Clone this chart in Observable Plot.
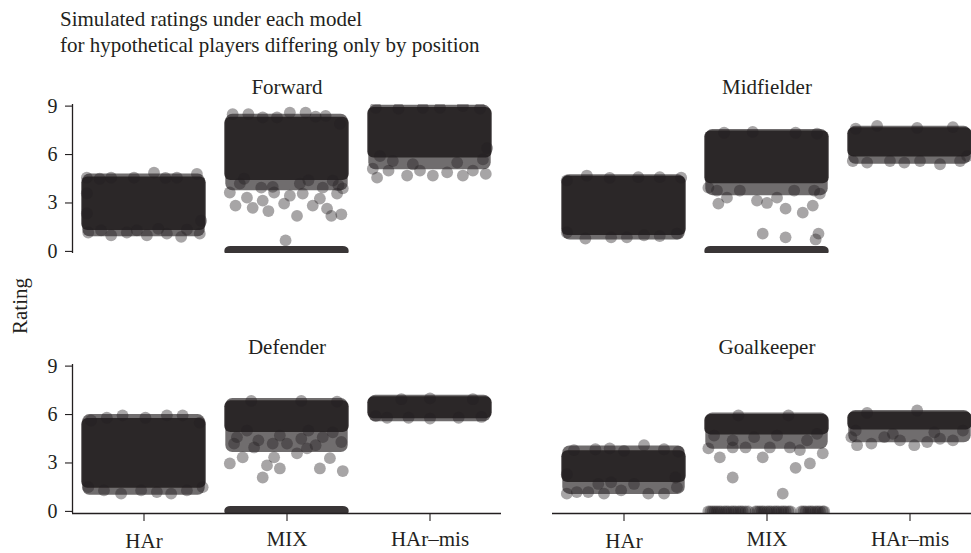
<!DOCTYPE html>
<html><head><meta charset="utf-8">
<script src="https://cdn.jsdelivr.net/npm/d3@7"></script>
<script src="https://cdn.jsdelivr.net/npm/@observablehq/plot@0.6"></script>
<style>
body{margin:0;background:#fff;overflow:hidden}
#wrap{position:relative;width:971px;height:553px;overflow:hidden;font-family:"Liberation Serif","Times New Roman",serif;color:#231f20;background:#fff}
.t{position:absolute;font-size:21px;line-height:21px;white-space:nowrap}
#ylab{position:absolute;left:20px;top:306px;transform:translate(-50%,-50%) rotate(-90deg);font-size:21px;line-height:21px;white-space:nowrap}
#chart{position:absolute;left:0;top:0}
</style></head><body>
<div id="wrap">
  <div id="chart"></div>
  <div class="t" style="left:60px;top:9px">Simulated ratings under each model</div>
  <div class="t" style="left:60px;top:35px">for hypothetical players differing only by position</div>
  <div id="ylab">Rating</div>
</div>
<script>
const positions = ["Forward", "Midfielder", "Defender", "Goalkeeper"];
const models = ["HAr", "MIX", "HAr–mis"];
const yTicks = [0, 3, 6, 9];

// dense cores (solid overlap): [position, model, low, high]
const coreBands = [
  ["Forward", "HAr", 1.6, 4.3],
  ["Forward", "MIX", 4.7, 8.0],
  ["Forward", "MIX", 0, 0],
  ["Forward", "HAr–mis", 6.1, 8.6],
  ["Midfielder", "HAr", 1.3, 4.35],
  ["Midfielder", "MIX", 4.5, 7.15],
  ["Midfielder", "MIX", 0, 0],
  ["Midfielder", "HAr–mis", 6.15, 7.35],
  ["Defender", "HAr", 1.75, 5.45],
  ["Defender", "MIX", 5.2, 6.55],
  ["Defender", "MIX", 0, 0],
  ["Defender", "HAr–mis", 6.05, 6.8],
  ["Goalkeeper", "HAr", 2.1, 3.45],
  ["Goalkeeper", "MIX", 5.05, 5.7],
  ["Goalkeeper", "HAr–mis", 5.35, 5.85]
];

// looser zones around the cores (partial overlap): [position, model, low, high]
const haloBands = [
  ["Forward", "HAr", 1.15, 4.55],
  ["Forward", "MIX", 4.0, 8.25],
  ["Forward", "HAr–mis", 5.3, 8.8],
  ["Midfielder", "HAr", 0.95, 4.5],
  ["Midfielder", "MIX", 3.7, 7.3],
  ["Midfielder", "HAr–mis", 5.65, 7.5],
  ["Defender", "HAr", 1.25, 5.75],
  ["Defender", "MIX", 3.9, 6.75],
  ["Defender", "HAr–mis", 5.8, 6.95],
  ["Goalkeeper", "HAr", 1.3, 3.8],
  ["Goalkeeper", "MIX", 4.1, 5.85],
  ["Goalkeeper", "HAr–mis", 4.5, 6.0]
];

// sparse points: [jitter offset, rating]
const forwardHAr = [[-0.40,4.57],[0.07,4.88],[0.37,4.80],[-0.07,4.57],[-0.23,4.57],[0.23,4.57],[-0.31,4.5],[0.15,4.55],[-0.39,1.17],[-0.23,1.0],[0.02,1.0],[0.26,0.9],[0.39,1.1],[-0.12,1.17],[0.16,1.1],[-0.40,3.6],[-0.40,2.35],[0.40,1.9],[-0.3,1.3],[0.3,1.35],[0.1,1.4],[-0.05,1.3]];
const forwardMIX = [[-0.38,8.5],[-0.27,8.5],[0.02,8.6],[0.13,8.6],[0.27,8.4],[-0.07,8.3],[0.37,7.9],[-0.17,8.3],[0.2,8.35],[-0.36,2.84],[-0.24,2.7],[-0.13,2.5],[-0.02,2.96],[0.07,2.2],[0.18,2.84],[0.28,2.65],[0.31,2.2],[-0.28,3.33],[0.02,3.45],[0.11,3.58],[0.35,3.58],[0.39,3.9],[-0.40,3.65],[-0.17,3.15],[0.23,3.27],[-0.09,3.65],[-0.18,3.95],[0.25,3.95],[-0.33,4.2],[0.32,4.38],[0.09,4.2],[-0.01,0.68],[0.38,2.3],[-0.3,4.5],[0.15,4.4],[-0.1,4.0],[0.36,4.1]];
const forwardMis = [[-0.40,5.12],[-0.37,4.57],[-0.29,5.0],[-0.16,4.7],[-0.07,5.0],[0.02,4.7],[0.12,4.9],[0.23,4.7],[0.30,5.0],[0.39,4.8],[-0.26,5.6],[-0.12,5.4],[0.19,5.5],[-0.35,5.9],[0.4,6.4],[0.37,5.7],[-0.05,8.9],[0.23,9.0],[0.07,8.9],[-0.38,8.9],[-0.22,8.85],[0.35,8.85]];
const midHAr = [[-0.26,4.7],[0.40,4.57],[-0.40,4.4],[0.1,4.6],[-0.1,4.55],[0.25,4.6],[-0.27,0.8],[-0.09,0.87],[0.14,1.0],[0.37,1.1],[-0.40,1.17],[0.02,0.87],[0.25,0.95]];
const midMIX = [[-0.35,3.77],[-0.28,3.33],[-0.34,2.96],[-0.07,3.15],[0.0,3.0],[0.07,3.33],[0.13,2.65],[0.25,2.4],[0.32,2.84],[0.37,3.58],[-0.19,3.77],[0.19,3.77],[0.33,3.77],[-0.41,3.95],[-0.03,1.1],[0.13,0.87],[0.36,1.1],[0.34,0.74],[-0.1,7.4],[0.2,7.35],[-0.3,7.35],[0.35,7.3]];
const midMis = [[-0.40,5.6],[-0.30,5.5],[-0.14,5.6],[-0.04,5.5],[0.07,5.6],[0.21,5.4],[0.35,5.6],[0.40,5.9],[-0.23,7.78],[0.05,7.65],[-0.38,7.6],[0.3,7.7]];
const defHAr = [[-0.37,5.63],[-0.26,5.8],[-0.15,5.95],[0.01,5.8],[0.16,5.95],[0.27,5.95],[0.39,5.5],[-0.39,1.5],[-0.28,1.3],[-0.16,1.1],[-0.02,1.3],[0.09,1.2],[0.19,1.1],[0.30,1.3],[0.41,1.5]];
const defMIX = [[-0.40,2.97],[-0.17,2.1],[-0.31,3.35],[-0.14,2.85],[-0.05,2.66],[-0.09,3.35],[0.07,3.6],[0.23,2.66],[-0.37,4.2],[-0.23,3.96],[0.0,4.2],[0.14,3.9],[0.39,2.5],[0.30,3.3],[-0.35,4.6],[-0.2,4.4],[-0.05,4.7],[0.1,4.5],[0.25,4.6],[0.38,4.3],[-0.28,5.0],[0.15,5.0],[0.32,4.9],[-0.1,4.2],[0.2,4.1],[-0.25,6.85],[0.1,6.85],[0.35,6.8]];
const defMis = [[-0.3,5.8],[0.0,5.75],[0.2,5.8],[0.36,5.85],[-0.38,5.9],[-0.15,5.8],[0.0,7.0],[0.3,6.95],[-0.2,6.95]];
const gkHAr = [[-0.35,3.8],[-0.2,3.85],[0,3.75],[0.14,4.1],[0.28,3.85],[0.38,3.7],[-0.1,3.9],[-0.40,1.1],[-0.33,1.2],[-0.25,1.2],[-0.14,1.1],[-0.02,1.3],[0.17,1.1],[0.28,1.1],[0.37,1.5],[0.07,1.7],[-0.18,1.7],[0.36,2.1],[-0.40,2.3],[-0.09,1.8]];
const gkMIX = [[-0.41,3.9],[-0.33,3.35],[-0.24,3.96],[-0.15,3.96],[-0.03,3.35],[0.02,3.96],[0.16,3.96],[0.20,2.7],[0.30,2.97],[0.39,3.6],[0.23,3.8],[-0.37,4.7],[-0.24,4.4],[-0.09,4.6],[0.07,4.7],[0.28,4.4],[0.35,4.8],[-0.24,2.1],[0.11,1.1],[-0.2,5.95],[0.15,5.95]];
const gkMIXZero = [-0.41,-0.395,-0.38,-0.365,-0.35,-0.335,-0.32,-0.30,-0.285,-0.27,-0.25,-0.235,-0.22,-0.20,-0.185,-0.17,-0.15,-0.13,-0.08,-0.065,-0.05,-0.035,-0.02,0.0,0.015,0.03,0.05,0.065,0.08,0.10,0.115,0.13,0.15,0.165,0.24,0.255,0.27,0.29,0.305,0.32,0.34,0.355,0.37,0.39,0.40];
const gkMis = [[-0.41,4.6],[-0.37,4.1],[-0.27,4.2],[-0.18,4.6],[-0.07,4.4],[0.03,4.1],[0.12,4.3],[0.21,4.5],[0.30,4.4],[0.37,5.0],[-0.38,5.0],[-0.12,4.8],[0.17,4.9],[-0.3,6.1],[0.05,6.25]];

const pointGroups = [
  ["Forward", "HAr", forwardHAr], ["Forward", "MIX", forwardMIX], ["Forward", "HAr–mis", forwardMis],
  ["Midfielder", "HAr", midHAr], ["Midfielder", "MIX", midMIX], ["Midfielder", "HAr–mis", midMis],
  ["Defender", "HAr", defHAr], ["Defender", "MIX", defMIX], ["Defender", "HAr–mis", defMis],
  ["Goalkeeper", "HAr", gkHAr], ["Goalkeeper", "MIX", gkMIX], ["Goalkeeper", "MIX", gkMIXZero.map(o => [o, 0])],
  ["Goalkeeper", "HAr–mis", gkMis]
];

const col = p => positions.indexOf(p) % 2 === 0 ? "L" : "R";
const row = p => positions.indexOf(p) < 2 ? "T" : "B";
const mx = m => models.indexOf(m) + 1;

const cores = coreBands.map(([p, m, lo, hi]) => ({p, m, lo, hi}));
const halos = haloBands.map(([p, m, lo, hi]) => ({p, m, lo, hi}));
const points = pointGroups.flatMap(([p, m, arr]) => arr.map(([o, v]) => ({p, m, o, v})));
const titles = positions.map(p => ({p}));
const leftFacets = positions.filter(p => col(p) === "L").map(p => ({p}));
const bottomFacets = positions.filter(p => row(p) === "B").map(p => ({p}));

const ink = "#231f20";
const xDom = [0.5, 3.5], yDom = [-0.13, 9.1];
const fxA = d => col(d.p), fyA = d => row(d.p);

const chart = Plot.plot({
  width: 985, height: 553,
  marginLeft: 72, marginRight: 4, marginTop: 104, marginBottom: 40,
  style: {fontFamily: "\"Liberation Serif\", \"Times New Roman\", serif", fontSize: "20px", color: ink, background: "transparent", maxWidth: "none", overflow: "visible"},
  fx: {domain: ["L", "R"], paddingInner: 0.10625, paddingOuter: 0, axis: null, round: false},
  fy: {domain: ["T", "B"], paddingInner: 0.4269, paddingOuter: 0, axis: null, round: false},
  x: {domain: xDom, axis: null},
  y: {domain: yDom, axis: null},
  marks: [
    Plot.rect(halos, {x1: d => mx(d.m) - 0.4, x2: d => mx(d.m) + 0.4, y1: "lo", y2: "hi", fx: fxA, fy: fyA,
      inset: -4, rx: 7, fill: ink, fillOpacity: 0.65, clip: true}),
    Plot.rect(cores, {x1: d => mx(d.m) - 0.4, x2: d => mx(d.m) + 0.4, y1: "lo", y2: "hi", fx: fxA, fy: fyA,
      inset: -5, rx: 6, fill: ink, fillOpacity: 0.9, clip: true}),
    Plot.dot(points, {x: d => mx(d.m) + d.o, y: "v", fx: fxA, fy: fyA, r: 5.9, fill: ink, fillOpacity: 0.4, stroke: "none", clip: true}),
    Plot.ruleX(leftFacets, {x: () => xDom[0], fx: fxA, fy: fyA, stroke: ink, strokeWidth: 1.3}),
    Plot.ruleY(bottomFacets, {y: () => yDom[0], fx: fxA, fy: fyA, stroke: ink, strokeWidth: 1.3}),
    Plot.axisY(yTicks, {facetAnchor: "left", tickSize: 7, tickPadding: 8, fontSize: 20, stroke: ink, strokeWidth: 1.1, label: null}),
    Plot.axisX([1], {facetAnchor: "bottom", tickSize: 8, tickPadding: 12, fontSize: 21, stroke: ink, strokeWidth: 1.1, label: null, tickFormat: i => models[i - 1]}),
    Plot.axisX([2, 3], {facetAnchor: "bottom", tickSize: 8, tickPadding: 10, fontSize: 21, stroke: ink, strokeWidth: 1.1, label: null, tickFormat: i => models[i - 1]}),
    Plot.text(titles, {fx: fxA, fy: fyA, text: "p", frameAnchor: "top", dy: -25, fontSize: 21, fill: ink})
  ]
});
document.getElementById("chart").appendChild(chart);
</script>
</body></html>
